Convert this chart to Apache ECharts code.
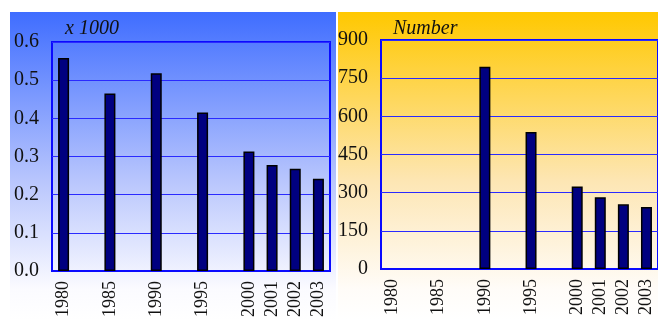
<!DOCTYPE html>
<html>
<head>
<meta charset="utf-8">
<style>
  html, body { margin: 0; padding: 0; background: #ffffff; }
  #chart { width: 658px; height: 320px; }
</style>
<script src="https://cdn.jsdelivr.net/npm/echarts@6/dist/echarts.min.js"></script>
</head>
<body>
<div id="chart"></div>
<script>
// Survey years; a five-year step gets an extra empty slot on the axis
const years = ['1980', '1985', '1990', '1995', '2000', '2001', '2002', '2003'];
// Left panel, in thousands
const leftValues = [0.558, 0.465, 0.518, 0.415, 0.313, 0.278, 0.268, 0.242];
// Right panel, counts (no data before 1990)
const rightValues = [null, null, 795, 538, 324, 282, 254, 244];
const leftTicks = ['0.0', '0.1', '0.2', '0.3', '0.4', '0.5', '0.6'];
const rightTicks = ['0', '150', '300', '450', '600', '750', '900'];
const leftUnit = 'x 1000';
const rightUnit = 'Number';

// Build the slot list: a blank slot between years that are five apart
function buildSlots(values) {
  const cats = [], data = [];
  years.forEach((y, i) => {
    if (i > 0 && Number(y) - Number(years[i - 1]) > 1) {
      cats.push('');
      data.push(null);
    }
    cats.push(y);
    data.push(values[i]);
  });
  return { cats, data };
}
const L = buildSlots(leftValues);
const R = buildSlots(rightValues);

const serif = '"Liberation Serif", "DejaVu Serif", serif';
const blue = '#0a0aff';

function xAxis(gridIndex, cats) {
  return {
    type: 'category', gridIndex, data: cats,
    axisTick: { show: false },
    axisLine: { show: true, lineStyle: { color: blue, width: 2 } },
    axisLabel: { rotate: 90, margin: 10, interval: 0, color: '#111', fontFamily: serif, fontSize: 18 }
  };
}
function yAxis(gridIndex, max, interval, ticks) {
  return {
    type: 'value', gridIndex, min: 0, max, interval,
    axisLine: { show: false }, axisTick: { show: false },
    splitLine: { lineStyle: { color: '#2a2aff', width: 1 } },
    axisLabel: {
      margin: 13, color: '#111', fontFamily: serif, fontSize: 20,
      formatter: (v) => ticks[Math.round(v / interval)]
    }
  };
}
function bars(xi, data) {
  return {
    type: 'bar', xAxisIndex: xi, yAxisIndex: xi, data, barWidth: 11,
    itemStyle: { color: '#000080', borderColor: '#000000', borderWidth: 1.5 },
    silent: true
  };
}

const chart = echarts.init(document.getElementById('chart'), null, { renderer: 'canvas' });
chart.setOption({
  animation: false,
  graphic: [
    {
      type: 'rect', z: -10, shape: { x: 10, y: 12, width: 326, height: 308 },
      style: { fill: new echarts.graphic.LinearGradient(0, 0, 0, 1, [
        { offset: 0, color: '#3f6dff' }, { offset: 0.55, color: '#b9c6fd' }, { offset: 0.9, color: '#fbfbff' }, { offset: 1, color: '#ffffff' }
      ]) }
    },
    {
      type: 'rect', z: -10, shape: { x: 338, y: 12, width: 320, height: 308 },
      style: { fill: new echarts.graphic.LinearGradient(0, 0, 0, 1, [
        { offset: 0, color: '#ffc800' }, { offset: 0.55, color: '#fde6b4' }, { offset: 0.9, color: '#fffcf8' }, { offset: 1, color: '#ffffff' }
      ]) }
    },
    { type: 'text', left: 65, top: 19, style: { text: leftUnit, fontFamily: serif, fontStyle: 'italic', fontSize: 20, fill: '#111' } },
    { type: 'text', left: 393, top: 19, style: { text: rightUnit, fontFamily: serif, fontStyle: 'italic', fontSize: 20, fill: '#111' } }
  ],
  grid: [
    { left: 52, top: 42, width: 278, height: 230, show: true, borderColor: blue, borderWidth: 2, backgroundColor: 'transparent' },
    { left: 381, top: 40, width: 282, height: 229, show: true, borderColor: blue, borderWidth: 2, backgroundColor: 'transparent' }
  ],
  xAxis: [xAxis(0, L.cats), xAxis(1, R.cats)],
  yAxis: [yAxis(0, 0.6, 0.1, leftTicks), yAxis(1, 900, 150, rightTicks)],
  series: [bars(0, L.data), bars(1, R.data)]
});
</script>
</body>
</html>
